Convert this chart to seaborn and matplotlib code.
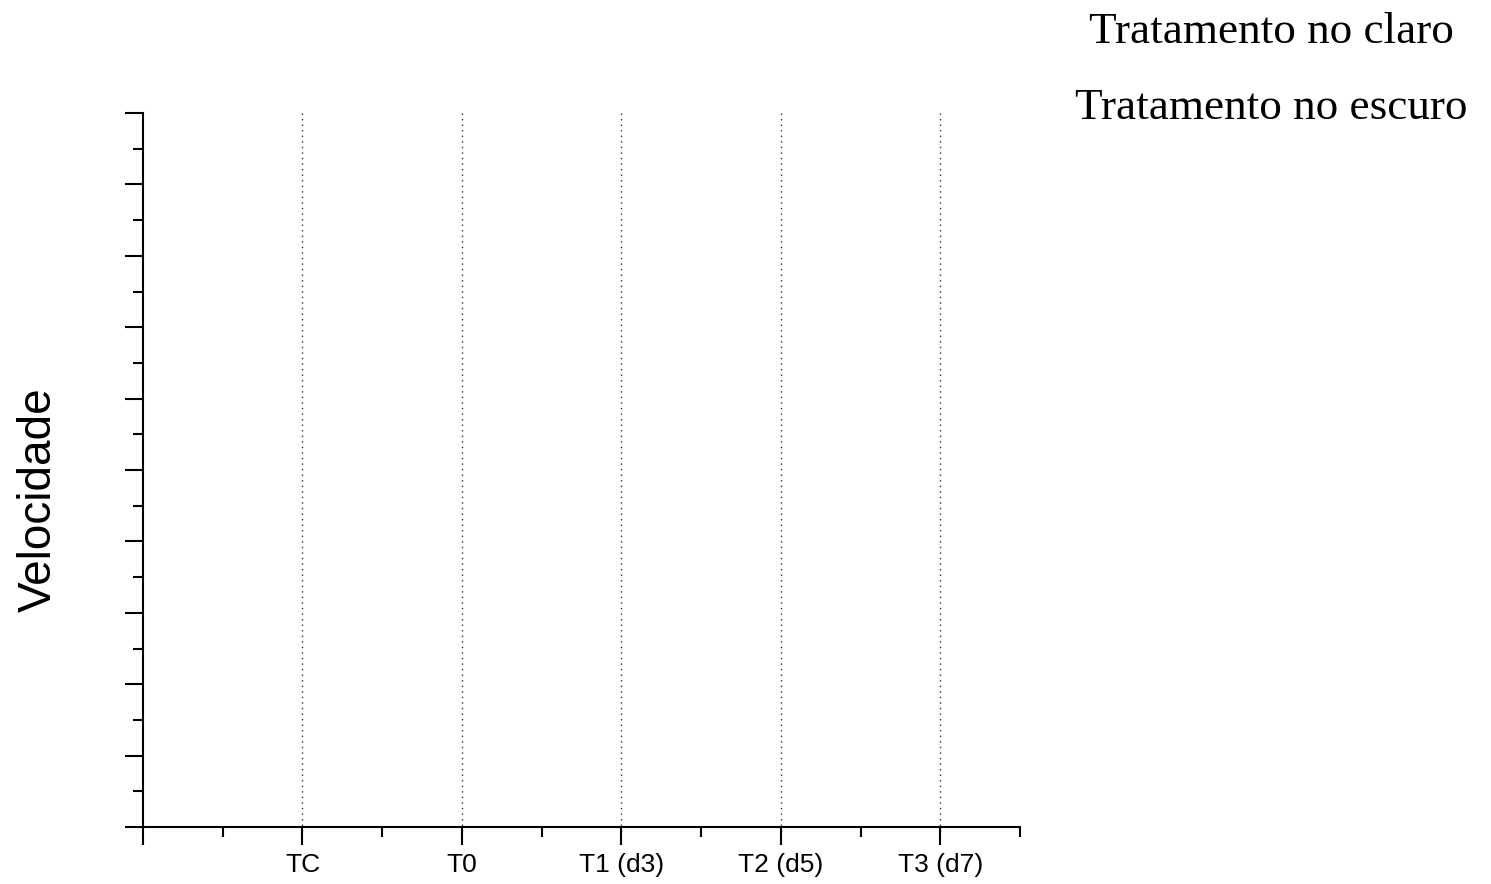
import matplotlib
matplotlib.use("Agg")
import matplotlib.pyplot as plt
from matplotlib.ticker import MultipleLocator, NullFormatter, FixedLocator, FixedFormatter
import seaborn as sns

# Sampling times on the x axis and the two treatment groups
categories = ["TC", "T0", "T1 (d3)", "T2 (d5)", "T3 (d7)"]
groups = ["Tratamento no claro", "Tratamento no escuro"]
y_label = "Velocidade"

sns.set_theme(style="ticks")
plt.rcParams["font.family"] = ["Liberation Sans", "DejaVu Sans"]

fig = plt.figure(figsize=(14.91, 8.84), dpi=100)
ax = fig.add_axes([143 / 1491, 57 / 884, (1020 - 143) / 1491, (827 - 113) / 884])

positions = list(range(1, len(categories) + 1))
ax.set_xlim(0, len(categories) + 0.5)
ax.set_ylim(0, 10)

# x: one major tick per time point (plus origin), minor ticks halfway between
ax.xaxis.set_major_locator(FixedLocator([0] + positions))
ax.xaxis.set_major_formatter(FixedFormatter([""] + categories))
ax.xaxis.set_minor_locator(FixedLocator([p - 0.5 for p in positions] + [len(categories) + 0.5]))

# y: unlabeled ticks
ax.yaxis.set_major_locator(MultipleLocator(1))
ax.yaxis.set_minor_locator(MultipleLocator(0.5))
ax.yaxis.set_major_formatter(NullFormatter())

ax.tick_params(axis="both", which="major", direction="out", length=13, width=1.5, color="black")
ax.tick_params(axis="both", which="minor", direction="out", length=7, width=1.5, color="black")
ax.tick_params(axis="x", which="major", labelsize=19, pad=6, labelcolor="black")

# dotted guide at every time point
for p in positions:
    ax.axvline(p, ymin=-0.005, ymax=1.006, color="#333333", linestyle=(0, (1, 3)),
               linewidth=1.0, clip_on=False, zorder=0)

sns.despine(ax=ax, top=True, right=True)
for side in ("left", "bottom"):
    ax.spines[side].set_linewidth(1.5)
    ax.spines[side].set_color("black")
ax.set_facecolor("white")
ax.grid(False)

ax.set_ylabel(y_label, fontsize=33, color="black", labelpad=0)
ax.yaxis.set_label_coords(-(143 - 61) / 877, (827 - 500) / 714)

# group labels, top right
for i, g in enumerate(groups):
    fig.text(1271 / 1491, 1 - (43 + 76 * i) / 884, g, ha="center", va="baseline",
             fontsize=32.5, family=["Liberation Serif", "DejaVu Serif"], color="black")

fig.savefig("out.png", dpi=100, facecolor="white")
